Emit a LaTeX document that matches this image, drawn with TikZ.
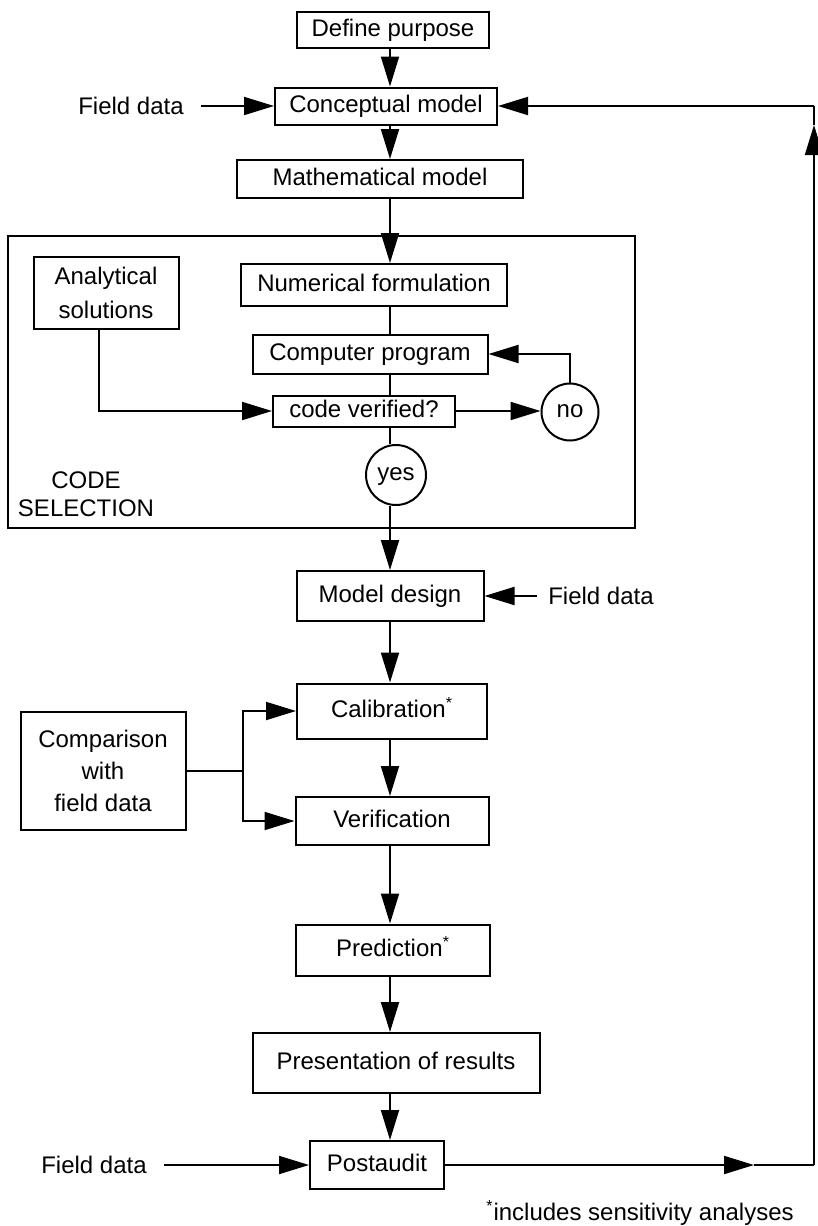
\documentclass[tikz,border=0pt]{standalone}
\usepackage{fontspec}
\setmainfont{Liberation Sans}
\usetikzlibrary{arrows.meta,calc}
\begin{document}
\begin{tikzpicture}[x=0.5pt,y=-0.5pt,
  every node/.style={font=\fontsize{12}{16}\selectfont},
  box/.style={draw,line width=1pt,inner sep=0pt,align=center},
  sbox/.style={box,text height=8.6pt,text depth=2.5pt},
  circ/.style={draw,circle,line width=1pt,inner sep=0pt,text height=7.6pt,text depth=2.5pt},
  lbl/.style={inner sep=0pt,align=center},
  arr/.style={-{Triangle[length=15pt,width=9pt]}},
  line width=1pt]
\useasboundingbox (0,0) rectangle (818,1226);
\coordinate (mx) at (390,0);
\coordinate (ak) at (99,0);
\coordinate (rx) at (814,0);

% code selection frame
\node[box,minimum width=313.5pt,minimum height=146pt] (cs) at (321.5,382) {};
\node[lbl,font=\fontsize{12}{14}\selectfont] (cstext) at (86,494) {CODE\\SELECTION};

% boxes
\node[sbox,minimum width=96pt,minimum height=18pt] (def) at (393,30) {Define purpose};
\node[sbox,minimum width=111pt,minimum height=18.5pt] (con) at (386,106) {Conceptual model};
\node[sbox,minimum width=143pt,minimum height=19pt] (math) at (380,179) {Mathematical model};
\node[sbox,minimum width=133pt,minimum height=21pt] (num) at (374,285) {Numerical formulation};
\node[box,minimum width=72.5pt,minimum height=36pt,font=\fontsize{12}{17}\selectfont] (ana) at (106,293) {Analytical\\solutions};
\node[sbox,minimum width=117.5pt,minimum height=19.5pt] (comp) at (370,354) {Computer program};
\node[sbox,minimum width=91pt,minimum height=15.5pt] (cv) at (364,411) {code verified?};
\node[circ,minimum size=28.5pt] (no) at (570,412) {no};
\node[circ,minimum size=30pt] (yes) at (396,475) {yes};
\node[sbox,minimum width=93.5pt,minimum height=25pt] (model) at (390,596) {Model design};
\node[sbox,minimum width=95pt,minimum height=27.5pt] (calib) at (392,711) {Calibration\textsuperscript{*}};
\node[box,minimum width=82.5pt,minimum height=59pt] (compar) at (103,771) {Comparison\\with\\field data};
\node[sbox,minimum width=96.5pt,minimum height=24pt] (verif) at (392,821) {Verification};
\node[sbox,minimum width=97pt,minimum height=25.5pt] (pred) at (393,950) {Prediction\textsuperscript{*}};
\node[sbox,minimum width=143.5pt,minimum height=30pt] (pres) at (396,1063) {Presentation of results};
\node[sbox,minimum width=67pt,minimum height=24pt] (post) at (377,1165) {Postaudit};

% labels
\node[lbl] (fd1) at (131,106) {Field data};
\node[lbl] (fd2) at (601,596) {Field data};
\node[lbl] (fd3) at (94,1165) {Field data};
\node[lbl] (foot) at (640,1213) {\textsuperscript{*}includes sensitivity analyses};

% main flow
\draw[arr] (def.south -| mx) -- (con.north -| mx);
\draw[arr] (con.south -| mx) -- (math.north -| mx);
\draw[arr] (math.south -| mx) -- (num.north -| mx);
\draw (num.south -| mx) -- (comp.north -| mx);
\draw (comp.south -| mx) -- (cv.north -| mx);
\draw (cv.south -| mx) -- (yes.north -| mx);
\draw[arr] (yes.south -| mx) -- (model.north -| mx);
\draw[arr] (model.south -| mx) -- (calib.north -| mx);
\draw[arr] (calib.south -| mx) -- (verif.north -| mx);
\draw[arr] (verif.south -| mx) -- (pred.north -| mx);
\draw[arr] (pred.south -| mx) -- (pres.north -| mx);
\draw[arr] (pres.south -| mx) -- (post.north -| mx);

% side inputs
\draw[arr,shorten <=8pt] (fd1.east) -- (con.west);
\draw[arr,shorten <=5pt] (fd2.west) -- (model.east);
\draw[arr,shorten <=8pt] (fd3.east) -- (post.west);

% code selection internals
\draw[arr] (ana.south -| ak) |- (cv.west);
\draw[arr] (cv.east) -- (cv.east -| no.west);
\draw[arr] (no.north) |- (comp.east);

% comparison
\coordinate (j) at (243,771);
\draw (compar.east) -- (j);
\draw[arr] (j) |- (calib.west);
\draw[arr] (j) |- (verif.west);

% feedback loop
\coordinate (m1) at (754,1165);
\coordinate (pr) at (814,1165);
\coordinate (m2) at (814,125);
\coordinate (tr) at (814,106);
\draw[arr] (post.east) -- (m1);
\draw (m1) -- (pr);
\draw[arr] (pr) -- (m2);
\draw (m2) -- (tr);
\draw[arr] (tr) -- (con.east);
\end{tikzpicture}
\end{document}
